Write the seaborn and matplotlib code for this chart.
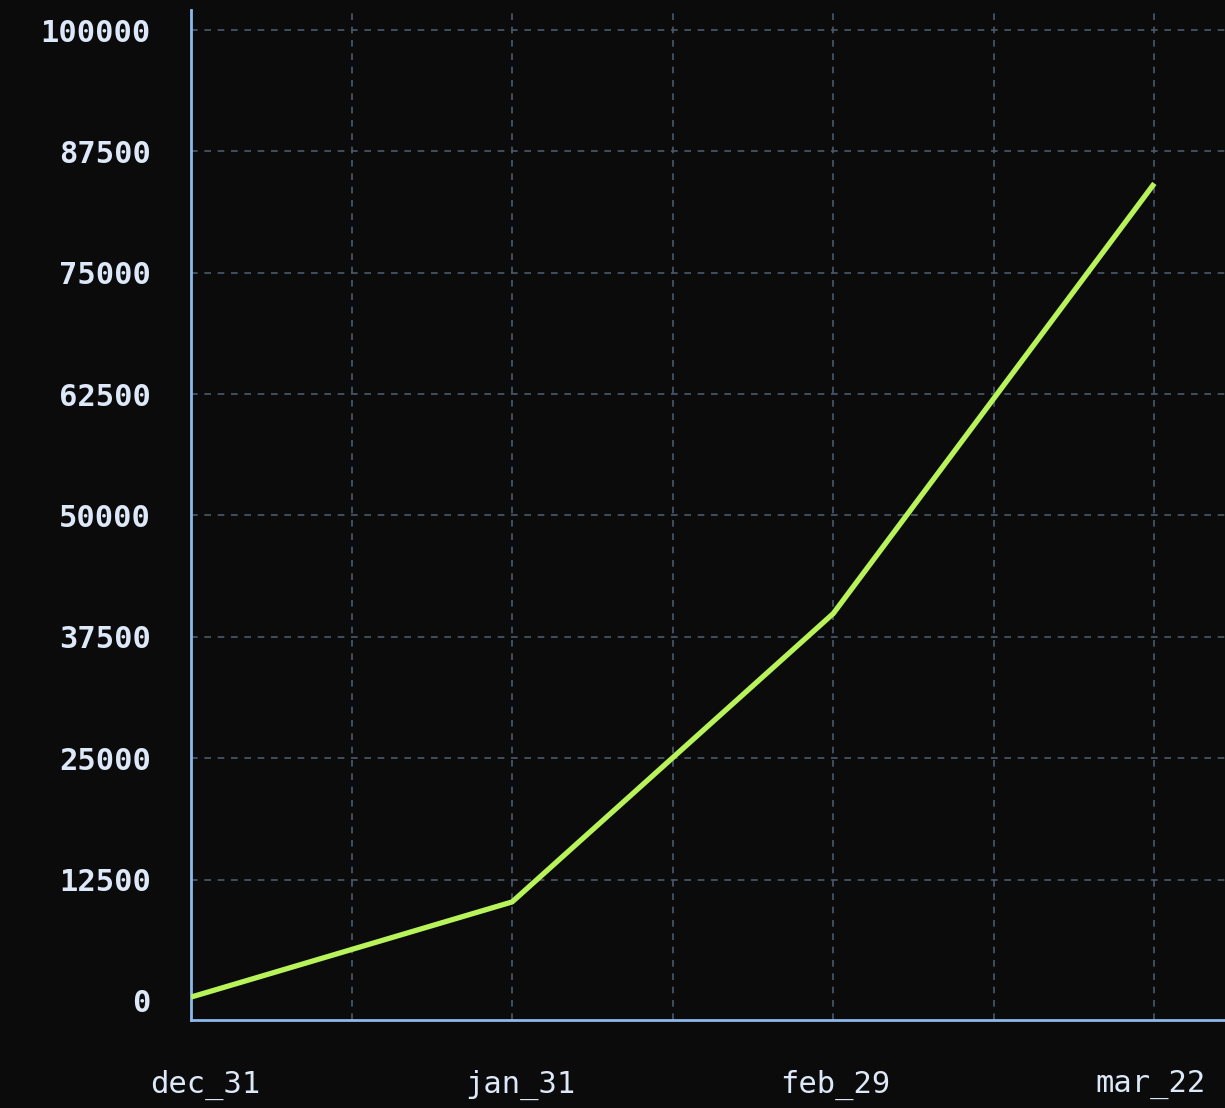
import matplotlib
matplotlib.use("Agg")
import matplotlib.pyplot as plt
import matplotlib.transforms as mtransforms
import seaborn as sns
import pandas as pd
import numpy as np

dates = ["dec_31", "jan_31", "feb_29", "mar_22"]
values = [400, 10200, 39900, 84200]
yticks = [0, 12500, 25000, 37500, 50000, 62500, 75000, 87500, 100000]

bg = "#0b0b0c"
spine_c = "#8cb8ec"
grid_c = "#4a5a6c"
line_c = "#b8f35a"
text_c = "#dde8f8"

sns.set_theme(style="dark")
plt.rcParams["font.family"] = ["DejaVu Sans Mono", "DejaVu Sans"]

df = pd.DataFrame({"pos": np.arange(len(dates)), "value": values})

fig = plt.figure(figsize=(12.25, 11.08), dpi=100, facecolor=bg)
ax = fig.add_axes([191 / 1225, 88 / 1108, 1 - 191 / 1225, 1010 / 1108])
ax.set_facecolor(bg)

sns.lineplot(data=df, x="pos", y="value", ax=ax, color=line_c, linewidth=3.8,
             solid_capstyle="butt", zorder=3)

ax.set_xlim(0, 3.22)
ax.set_ylim(-1960, 102060)
ax.set_xticks(np.arange(len(dates)))
ax.set_xticklabels(dates)
ax.set_xticks(np.arange(0.5, len(dates) - 0.5, 1.0), minor=True)
ax.set_yticks(yticks)
ax.set_yticklabels([str(v) for v in yticks])

ax.grid(True, which="both", axis="x", color=grid_c, linestyle=(0, (4, 4)), linewidth=1.2)
ax.grid(True, which="major", axis="y", color=grid_c, linestyle=(0, (4, 4)), linewidth=1.2)
ax.yaxis.get_gridlines()[0].set_visible(False)

for s in ["top", "right"]:
    ax.spines[s].set_visible(False)
for s in ["left", "bottom"]:
    ax.spines[s].set_visible(True)
    ax.spines[s].set_color(spine_c)
    ax.spines[s].set_linewidth(2)

ax.tick_params(axis="both", which="both", length=0)
ax.tick_params(axis="x", pad=36, labelsize=22, labelcolor=text_c)
ax.tick_params(axis="y", pad=29, labelsize=22, labelcolor=text_c)
for lab in ax.get_yticklabels():
    lab.set_fontweight("bold")

# slight horizontal spread of x labels as in reference
for i, lab in enumerate(ax.get_xticklabels()):
    dx = (14 - 6 * i) / 100.0
    lab.set_transform(lab.get_transform() + mtransforms.ScaledTranslation(dx, 0, fig.dpi_scale_trans))

ax.set_xlabel("")
ax.set_ylabel("")

fig.savefig("out.png", dpi=100, facecolor=bg)
